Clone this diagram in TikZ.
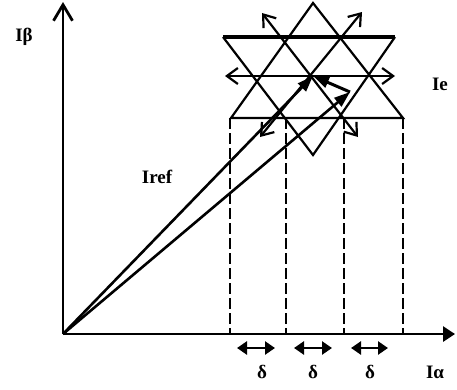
\documentclass[tikz,border=0pt]{standalone}
\usepackage{fontspec}
\setmainfont{Liberation Serif}
\usetikzlibrary{arrows.meta}
\begin{document}
\begin{tikzpicture}[x=1pt,y=-1pt,
  lbl/.style={font=\fontsize{19}{20}\selectfont\bfseries, inner sep=0pt},
  axis/.style={line width=2.8pt},
  grid/.style={line width=2.2pt, line join=miter},
  dir/.style={line width=2.2pt, {Straight Barb[length=11pt,width=16pt]}-{Straight Barb[length=11pt,width=16pt]}},
  vec/.style={line width=2.6pt, -{Triangle[length=16pt,width=11pt]}},
  proj/.style={line width=1.8pt, dash pattern=on 11pt off 4pt},
  deltaarrow/.style={line width=2.6pt, {Triangle[length=10pt,width=13pt]}-{Triangle[length=10pt,width=13pt]}}]
\useasboundingbox (0,0) rectangle (457,389);
% axes
\coordinate (O) at (63,334);
\coordinate (ytip) at (63,2);
\coordinate (xtip) at (455,334);
% star
\coordinate (A1) at (313,3);
\coordinate (B1) at (231,118);
\coordinate (C1) at (403,118);
\coordinate (D1) at (223,37);
\coordinate (E1) at (395,37);
\coordinate (F1) at (313,155);
\coordinate (C) at (313,76);
\coordinate (P) at (350,92);
\coordinate (hl) at (225,76);
\coordinate (hr) at (395,76);
\coordinate (dl) at (260,137);
\coordinate (ur) at (362,12);
\coordinate (ul) at (262,13);
\coordinate (dr) at (358,137);
% projections
\coordinate (p1t) at (230,118); \coordinate (p1b) at (230,334);
\coordinate (p2t) at (286,118); \coordinate (p2b) at (286,334);
\coordinate (p3t) at (344,118); \coordinate (p3b) at (344,334);
\coordinate (p4t) at (403,118); \coordinate (p4b) at (403,334);
% delta arrows
\coordinate (d1l) at (237,348); \coordinate (d1r) at (275,348);
\coordinate (d2l) at (294,348); \coordinate (d2r) at (332,348);
\coordinate (d3l) at (351,348); \coordinate (d3r) at (388,348);

\draw[proj] (p1t) -- (p1b);
\draw[proj] (p2t) -- (p2b);
\draw[proj] (p3t) -- (p3b);
\draw[proj] (p4t) -- (p4b);

\draw[axis, -{Straight Barb[length=16pt,width=19pt]}] (O) -- (ytip);
\draw[axis, -{Triangle[length=12pt,width=15pt]}] (O) -- (xtip);

\draw[grid] (A1) -- (B1) -- (C1) -- cycle;
\draw[grid] (D1) -- (F1) -- (E1);
\draw[line width=3.4pt] (D1) -- (E1);
\draw[dir] (hl) -- (hr);
\draw[dir] (dl) -- (ur);
\draw[dir] (ul) -- (dr);

\draw[vec] (O) -- (C);
\draw[vec] (O) -- (P);
\draw[vec, line width=3pt] (P) -- (C);

\draw[deltaarrow] (d1l) -- (d1r);
\draw[deltaarrow] (d2l) -- (d2r);
\draw[deltaarrow] (d3l) -- (d3r);

\node[lbl] (lb) at (24,37) {Iβ};
\node[lbl] (lref) at (157,177) {Iref};
\node[lbl] (le) at (440,84) {Ie};
\node[lbl] (la) at (435,372) {Iα};
\node[lbl] (dl1) at (262,372) {δ};
\node[lbl] (dl2) at (313,372) {δ};
\node[lbl] (dl3) at (370,372) {δ};
\end{tikzpicture}
\end{document}
